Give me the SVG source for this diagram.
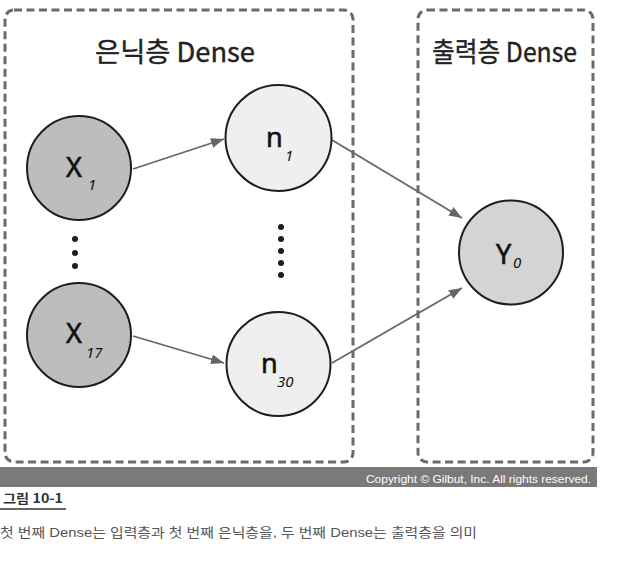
<svg xmlns="http://www.w3.org/2000/svg" width="631" height="563" viewBox="0 0 631 563">
<style>
.box{fill:none;stroke:#6b6b6b;stroke-width:3;stroke-dasharray:8 4.5}
.title{font-family:"Noto Sans CJK KR","Noto Sans",sans-serif;font-size:27px;fill:#222;stroke:#222;stroke-width:0.4}
.node{stroke:#1e1e1e;stroke-width:2}
.in{fill:#bdbdbd}
.hid{fill:#efefef}
.out{fill:#d4d4d4}
.lbl{font-family:"Noto Sans","DejaVu Sans",sans-serif;fill:#111;stroke:#111;stroke-width:0.6}
.big{font-size:27px}
.sub{font-size:15px;font-style:italic;stroke:none}
.edge{stroke:#666;stroke-width:1.8;fill:none}
.dot{fill:#1e1e1e}
</style>
<defs>
<marker id="arr" markerUnits="userSpaceOnUse" markerWidth="14" markerHeight="10" refX="13" refY="5" orient="auto">
<path d="M0,0 L13,5 L0,10 Z" fill="#666"/>
</marker>
</defs>
<rect width="631" height="563" fill="#fff"/>
<g id="hidden-layer">
<rect class="box" x="5" y="10" width="348" height="452" rx="9"/>
<text class="title" x="95" y="62" textLength="160" lengthAdjust="spacingAndGlyphs">은닉층 Dense</text>
</g>
<g id="output-layer">
<rect class="box" x="418" y="10" width="175" height="452" rx="9"/>
<text class="title" x="432" y="62" textLength="145" lengthAdjust="spacingAndGlyphs">출력층 Dense</text>
</g>
<g id="connectors">
<line class="edge" x1="133" y1="169" x2="224" y2="139" marker-end="url(#arr)"/>
<line class="edge" x1="133" y1="336" x2="224" y2="363" marker-end="url(#arr)"/>
<line class="edge" x1="332" y1="140" x2="462" y2="218" marker-end="url(#arr)"/>
<line class="edge" x1="332" y1="363" x2="462" y2="288" marker-end="url(#arr)"/>
</g>
<g id="x1">
<circle class="node in" cx="79" cy="168" r="52"/>
<text class="lbl big" x="66" y="177">X</text>
<text class="lbl sub" x="88" y="190">1</text>
</g>
<g id="x-dots">
<circle class="dot" cx="75" cy="239" r="3"/>
<circle class="dot" cx="75" cy="253" r="3"/>
<circle class="dot" cx="75" cy="266" r="3"/>
</g>
<g id="x17">
<circle class="node in" cx="79" cy="335" r="52"/>
<text class="lbl big" x="66" y="343">X</text>
<text class="lbl sub" x="86" y="358">17</text>
</g>
<g id="n1">
<circle class="node hid" cx="278.5" cy="138" r="53"/>
<text class="lbl big" x="266" y="147">n</text>
<text class="lbl sub" x="285" y="161">1</text>
</g>
<g id="n-dots">
<circle class="dot" cx="281" cy="227" r="3"/>
<circle class="dot" cx="281" cy="239" r="3"/>
<circle class="dot" cx="281" cy="251" r="3"/>
<circle class="dot" cx="281" cy="263" r="3"/>
<circle class="dot" cx="281" cy="275" r="3"/>
</g>
<g id="n30">
<circle class="node hid" cx="278.5" cy="364" r="52"/>
<text class="lbl big" x="261" y="373">n</text>
<text class="lbl sub" x="277" y="387">30</text>
</g>
<g id="y0">
<circle class="node out" cx="511" cy="252.5" r="52"/>
<text class="lbl big" x="496" y="264">Y</text>
<text class="lbl sub" x="513" y="268">0</text>
</g>
<g id="footer">
<rect x="0" y="467" width="597" height="20" fill="#7a7a7a"/>
<text x="591" y="483" text-anchor="end" font-family="Liberation Sans, Arial, sans-serif" font-size="11.5" fill="#fff" textLength="225" lengthAdjust="spacingAndGlyphs">Copyright © Gilbut, Inc. All rights reserved.</text>
<text x="3" y="503" font-family="'Noto Sans CJK KR', sans-serif" font-size="13" font-weight="bold" fill="#333" textLength="60" lengthAdjust="spacingAndGlyphs">그림 10-1</text>
<rect x="0" y="508" width="66" height="2" fill="#666"/>
<text x="0" y="537" font-family="'Liberation Sans', 'Noto Sans CJK KR', sans-serif" font-size="13" fill="#555" textLength="477" lengthAdjust="spacingAndGlyphs">첫 번째 Dense는 입력층과 첫 번째 은닉층을, 두 번째 Dense는 출력층을 의미</text>
</g>
</svg>
